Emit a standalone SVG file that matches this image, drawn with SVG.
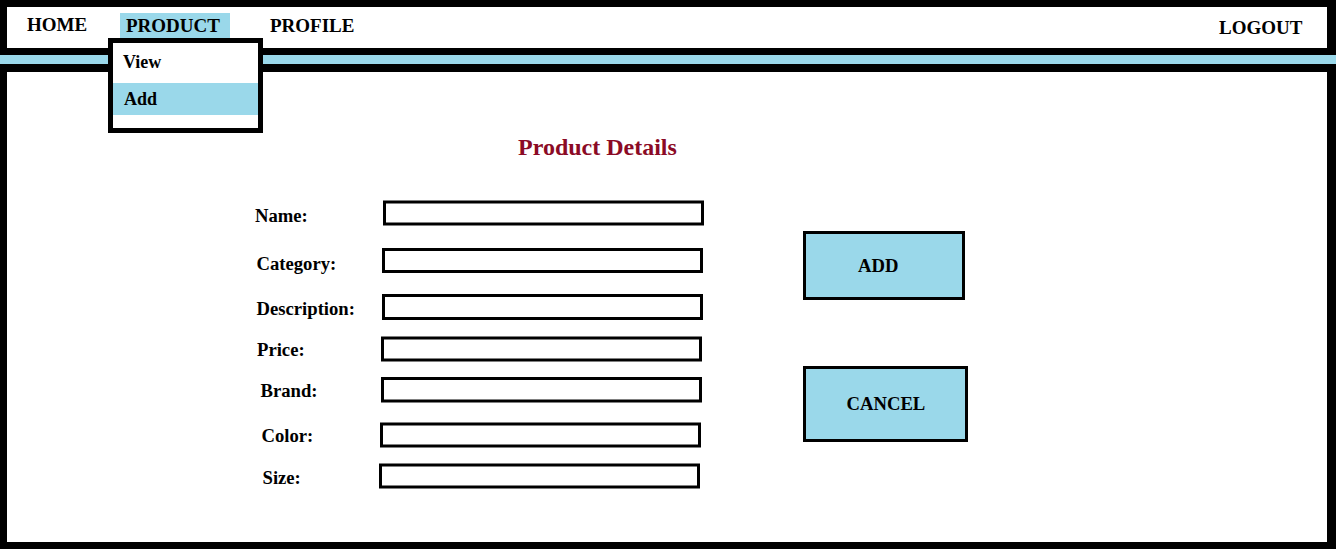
<svg xmlns="http://www.w3.org/2000/svg" width="1336" height="549" viewBox="0 0 1336 549">
<style>
text{font-family:"Liberation Serif","Times New Roman",serif;font-weight:bold;fill:#000}
.nav{font-size:19px}
.menu{font-size:18px}
.lbl{font-size:18.67px}
.box{fill:#fff;stroke:#000;stroke-width:3}
.btn{fill:#9AD8EA;stroke:#000;stroke-width:3}
.hl{fill:#9AD8EA}
</style>
<rect x="0" y="0" width="1336" height="549" fill="#000"/>
<rect x="7" y="7" width="1320" height="41" fill="#fff"/>
<rect x="0" y="55" width="1336" height="9" class="hl"/>
<rect x="7" y="72" width="1320" height="470" fill="#fff"/>
<g id="nav">
<rect x="120" y="13" width="110" height="25" class="hl"/>
<text class="nav" x="27" y="31">HOME</text>
<text class="nav" x="126" y="32">PRODUCT</text>
<text class="nav" x="270" y="32">PROFILE</text>
<text class="nav" x="1219" y="34">LOGOUT</text>
</g>
<g id="dropdown">
<rect x="110.5" y="40.5" width="150" height="90" fill="#fff" stroke="#000" stroke-width="5"/>
<rect x="113" y="83" width="145" height="32" class="hl"/>
<text class="menu" x="123" y="68">View</text>
<text class="menu" x="124" y="105">Add</text>
</g>
<g id="title">
<text x="518" y="155" font-size="24" style="fill:#8B0A25">Product Details</text>
</g>
<g id="form">
<text class="lbl" x="255" y="222">Name:</text>
<rect class="box" x="384.5" y="202" width="318" height="22"/>
<text class="lbl" x="256.5" y="270">Category:</text>
<rect class="box" x="383.5" y="249.5" width="318" height="22"/>
<text class="lbl" x="256.5" y="315">Description:</text>
<rect class="box" x="383.5" y="295.5" width="318" height="23"/>
<text class="lbl" x="257" y="356">Price:</text>
<rect class="box" x="382.5" y="338" width="318" height="22"/>
<text class="lbl" x="260.5" y="397">Brand:</text>
<rect class="box" x="382.5" y="378.5" width="318" height="22.5"/>
<text class="lbl" x="261.5" y="442">Color:</text>
<rect class="box" x="381.5" y="424" width="318" height="22"/>
<text class="lbl" x="262.5" y="484">Size:</text>
<rect class="box" x="380.5" y="465" width="318" height="22"/>
</g>
<g id="btn-add">
<rect class="btn" x="804.5" y="232.5" width="159" height="66"/>
<text class="lbl" x="858" y="272">ADD</text>
</g>
<g id="btn-cancel">
<rect class="btn" x="804.5" y="367.5" width="162" height="73"/>
<text class="lbl" x="846.5" y="410">CANCEL</text>
</g>
<g id="connectors"/>
</svg>
